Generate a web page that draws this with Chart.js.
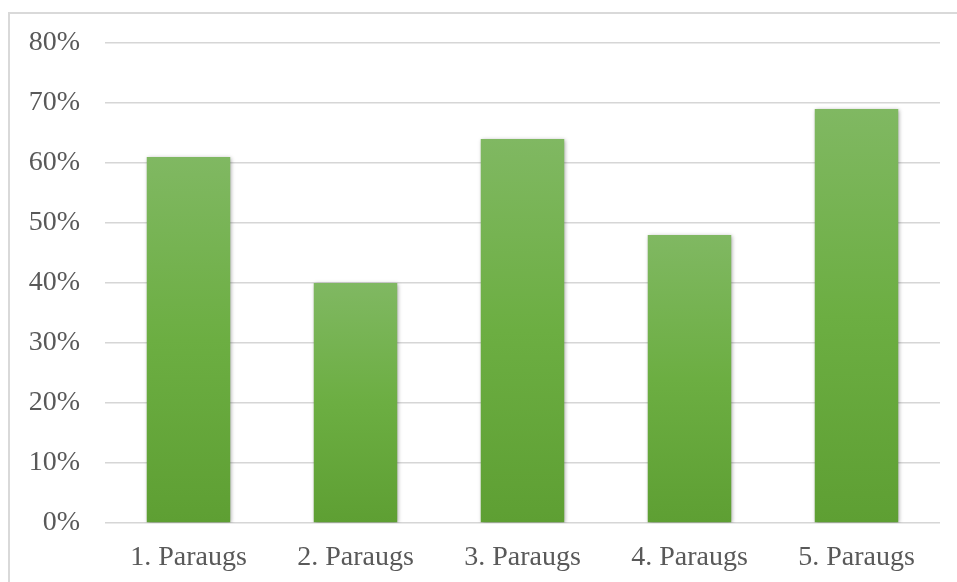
<!DOCTYPE html>
<html>
<head>
<meta charset="utf-8">
<script src="https://cdn.jsdelivr.net/npm/chart.js@4.4.1/dist/chart.umd.min.js"></script>
<style>
  html, body { margin: 0; padding: 0; background: #fff; }
  #wrap { position: relative; width: 957px; height: 582px; overflow: hidden; }
  #frame { position: absolute; left: 8px; top: 12px; width: 980px; height: 620px; border: 2px solid #d9d9d9; }
  #grafico { position: absolute; left: 0; top: 0; }
</style>
</head>
<body>
<div id="wrap">
  <div id="frame"></div>
  <canvas id="grafico" width="957" height="582"></canvas>
</div>
<script>
// datos del gráfico
const categorias = ['1. Paraugs', '2. Paraugs', '3. Paraugs', '4. Paraugs', '5. Paraugs'];
const valores = [61, 40, 64, 48, 69];
const ticksY = [0, 10, 20, 30, 40, 50, 60, 70, 80];

// sombra suave detrás de las barras
const sombraBarras = {
    id: 'sombraBarras',
    beforeDatasetsDraw(chart) {
        const ctx = chart.ctx;
        ctx.save();
        ctx.shadowColor = 'rgba(0, 0, 0, 0.35)';
        ctx.shadowBlur = 4;
        ctx.shadowOffsetX = 1;
        ctx.shadowOffsetY = 1;
    },
    afterDatasetsDraw(chart) {
        chart.ctx.restore();
    }
};

function degradado(context) {
    const chart = context.chart;
    if (!chart.chartArea || context.raw === undefined) return '#6aab45';
    const y = chart.scales.y;
    const arriba = y.getPixelForValue(context.raw);
    const abajo = y.getPixelForValue(0);
    const g = chart.ctx.createLinearGradient(0, arriba, 0, abajo);
    g.addColorStop(0, '#80b862');
    g.addColorStop(0.5, '#6cae42');
    g.addColorStop(1, '#5e9f33');
    return g;
}

const fuente = { family: "'Liberation Serif', 'Times New Roman', serif", size: 28 };

new Chart(document.getElementById('grafico').getContext('2d'), {
    type: 'bar',
    data: {
        labels: categorias,
        datasets: [{
            data: valores,
            backgroundColor: degradado,
            borderWidth: 0,
            barPercentage: 0.5,
            categoryPercentage: 1.0
        }]
    },
    options: {
        responsive: false,
        animation: false,
        layout: { padding: { top: 43, right: 17, left: 0, bottom: 0 } },
        plugins: {
            legend: { display: false },
            tooltip: { enabled: false }
        },
        scales: {
            x: {
                grid: { display: false },
                border: { display: false },
                ticks: { color: '#595959', font: fuente, padding: 10, maxRotation: 0 },
                afterFit(scale) { scale.height = 59; }
            },
            y: {
                min: 0,
                max: 80,
                afterBuildTicks(scale) { scale.ticks = ticksY.map(v => ({ value: v })); },
                grid: { color: '#d6d6d6', lineWidth: 1.5, drawTicks: false },
                border: { display: false },
                ticks: {
                    color: '#595959',
                    font: fuente,
                    padding: 25,
                    callback: v => v + '%'
                },
                afterFit(scale) { scale.width = 105; }
            }
        }
    },
    plugins: [sombraBarras]
});
</script>
</body>
</html>
